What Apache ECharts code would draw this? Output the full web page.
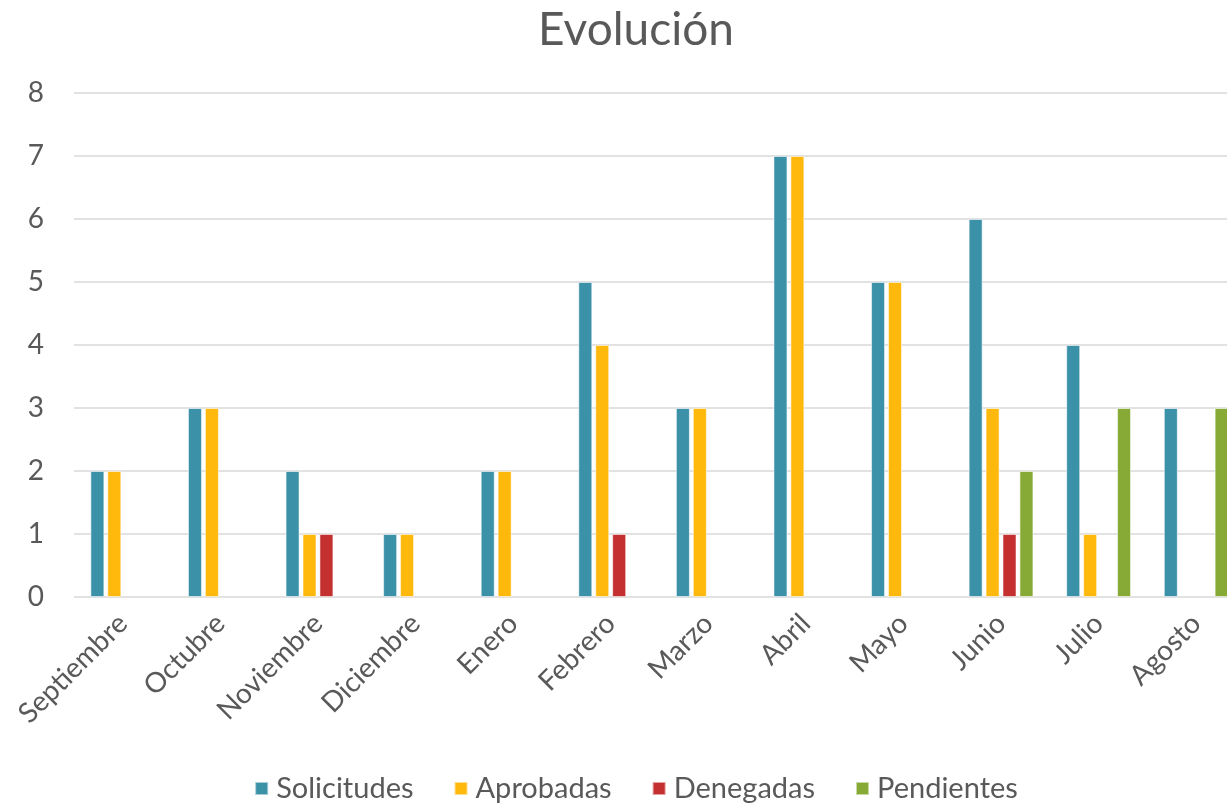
<!DOCTYPE html>
<html><head><meta charset="utf-8">
<script src="https://cdn.jsdelivr.net/npm/echarts@6/dist/echarts.min.js"></script>
<style>html,body{margin:0;padding:0;background:#fff;overflow:hidden}#c{width:1272px;height:810px}</style>
</head><body><div id="c"></div>
<script>
const categories = ['Septiembre','Octubre','Noviembre','Diciembre','Enero','Febrero','Marzo','Abril','Mayo','Junio','Julio','Agosto'];
const solicitudes = [2,3,2,1,2,5,3,7,5,6,4,3];
const aprobadas = [2,3,1,1,2,4,3,7,5,3,1,0];
const denegadas = [0,0,1,0,0,1,0,0,0,1,0,0];
const pendientes = [0,0,0,0,0,0,0,0,0,2,3,3];
const seriesNames = ['Solicitudes','Aprobadas','Denegadas','Pendientes'];
const colors = ['#3A91A8','#FFB80C','#C42F30','#87AA37'];
const font = 'Lato, "Open Sans", sans-serif';
const chart = echarts.init(document.getElementById('c'), null, {renderer:'canvas'});
const mk = (name, data, i) => ({
  name, type:'bar', data: data.map(v => v === 0 ? null : v), barWidth:14, barGap:'21%',
  itemStyle:{color:colors[i], borderColor:'rgba(255,255,255,0.55)', borderWidth:1},
  emphasis:{disabled:true}
});
chart.setOption({
  animation:false,
  color: colors,
  title:{text:'Evolución', left:'center', top:2, textStyle:{fontFamily:font, fontSize:46, fontWeight:'normal', color:'#595959'}},
  grid:{left:74, top:93, bottom:213, right:27, containLabel:false},
  legend:{bottom:2, left:'center', itemWidth:13, itemHeight:13, itemGap:40, icon:'rect',
    textStyle:{fontFamily:font, fontSize:29, color:'#595959', padding:[0,0,0,3]},
    data: seriesNames},
  xAxis:{type:'category', data:categories,
    axisLine:{show:false}, axisTick:{show:false},
    axisLabel:{rotate:45, interval:0, fontFamily:font, fontSize:28, color:'#595959', margin:22}},
  yAxis:{type:'value', min:0, max:8, interval:1,
    axisLine:{show:false}, axisTick:{show:false},
    axisLabel:{fontFamily:font, fontSize:28, color:'#595959', margin:30},
    splitLine:{lineStyle:{color:'#D9D9D9', width:1.5}}},
  series:[mk(seriesNames[0],solicitudes,0), mk(seriesNames[1],aprobadas,1), mk(seriesNames[2],denegadas,2), mk(seriesNames[3],pendientes,3)]
});
</script></body></html>
